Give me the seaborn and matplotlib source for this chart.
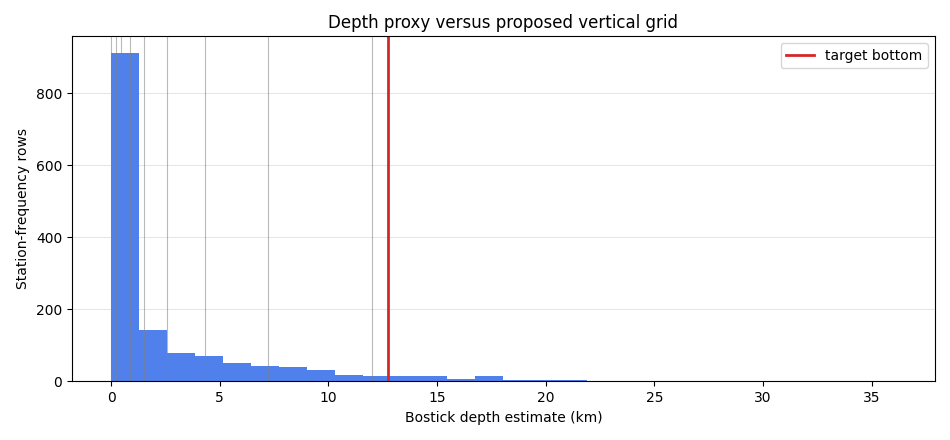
import numpy as np
import pandas as pd
import matplotlib
matplotlib.use("Agg")
import matplotlib.pyplot as plt
import seaborn as sns

# Histogram of Bostick depth estimates (28 equal bins from 0 to 36.1 km)
bin_lo = 0.0
bin_hi = 36.1
n_bins = 28
counts = [912, 142, 80, 72, 50, 44, 39, 31, 18, 15, 15, 15, 7, 15, 4, 4, 4,
          0, 0, 0, 0, 0, 0, 0, 0, 0, 0, 1]

# Proposed vertical grid interfaces (km) and target bottom
grid_levels = [0.0, 0.22, 0.45, 0.87, 1.51, 2.57, 4.33, 7.21, 12.0]
target_bottom = 12.73

edges = np.linspace(bin_lo, bin_hi, n_bins + 1)
centers = 0.5 * (edges[:-1] + edges[1:])
df = pd.DataFrame({"depth": centers, "rows": counts})

fig, ax = plt.subplots(figsize=(9.5, 4.4), dpi=100)
sns.histplot(data=df, x="depth", weights="rows", bins=n_bins,
             binrange=(bin_lo, bin_hi), ax=ax,
             color="#4f80ec", alpha=1.0, linewidth=0, edgecolor="none")

for g in grid_levels:
    ax.axvline(g, color="gray", alpha=0.55, linewidth=0.8)
ax.axvline(target_bottom, color="#d62728", linewidth=2, label="target bottom")

ax.grid(axis="y", alpha=0.3)
ax.set_axisbelow(True)
ax.set_xlim(-1.8, 37.9)
ax.set_ylim(0, 958)
ax.set_xlabel("Bostick depth estimate (km)")
ax.set_ylabel("Station-frequency rows")
ax.set_title("Depth proxy versus proposed vertical grid")
ax.legend(loc="upper right")

fig.subplots_adjust(left=0.0758, right=0.984, top=0.918, bottom=0.133)
fig.savefig("out.png", dpi=100)
